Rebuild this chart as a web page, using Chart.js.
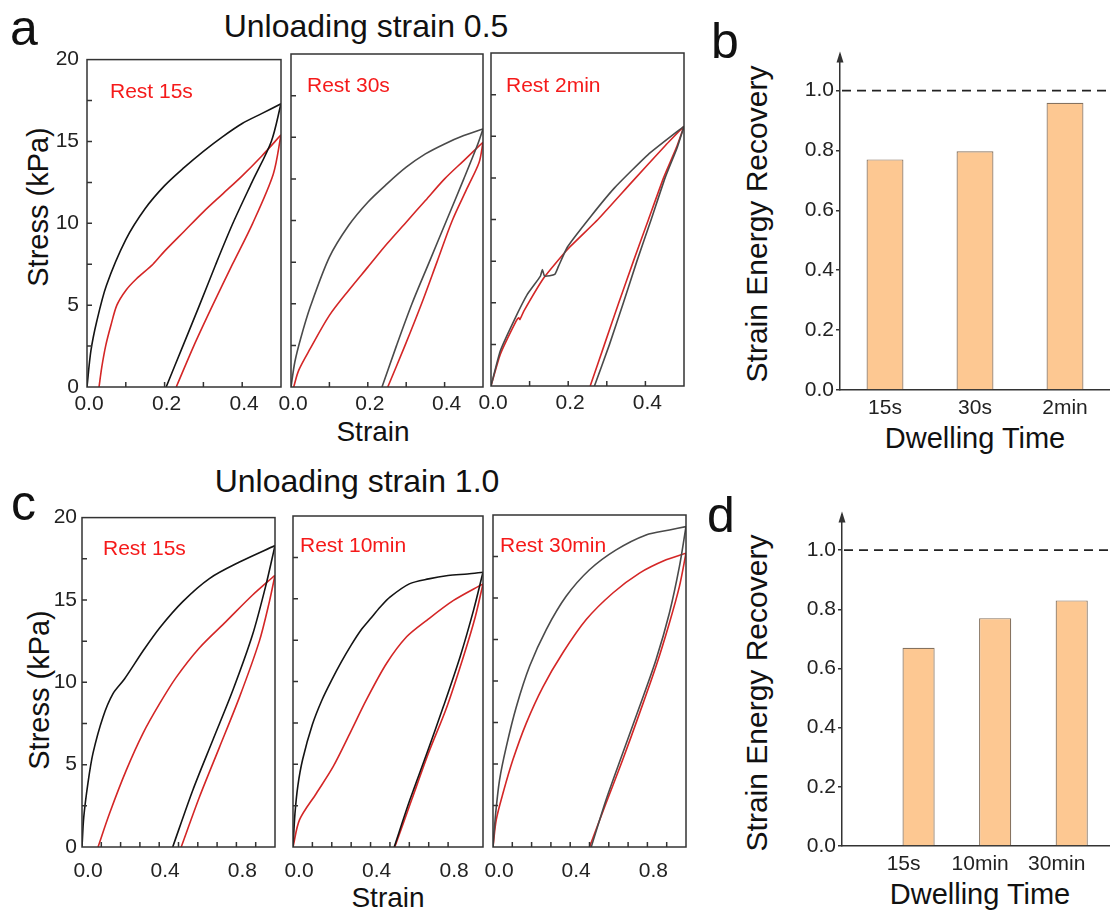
<!DOCTYPE html>
<html>
<head>
<meta charset="utf-8">
<script src="https://cdn.jsdelivr.net/npm/chart.js@4.4.0/dist/chart.umd.min.js"></script>
<style>
    body { margin: 0; width: 1110px; height: 913px; position: relative; background: #fff; overflow: hidden;
           font-family: "Liberation Sans", Arial, sans-serif; }
    canvas { position: absolute; }
    .t { position: absolute; color: #111; white-space: nowrap; line-height: 1; }
    .c { transform: translateX(-50%); }
    .r { transform: translate(-50%, -50%) rotate(-90deg); }
</style>
</head>
<body>

<div class="t" style="left:10px;top:3px;font-size:50px">a</div>
<div class="t" style="left:711px;top:16px;font-size:50px">b</div>
<div class="t" style="left:11px;top:478px;font-size:50px">c</div>
<div class="t" style="left:707px;top:490px;font-size:50px">d</div>

<div class="t c" style="left:366px;top:10px;font-size:32px">Unloading strain 0.5</div>
<div class="t c" style="left:357px;top:465px;font-size:32px">Unloading strain 1.0</div>

<div class="t r" style="left:38px;top:207px;font-size:29px">Stress (kPa)</div>
<div class="t r" style="left:39px;top:690px;font-size:29px">Stress (kPa)</div>
<div class="t c" style="left:373px;top:418px;font-size:28px">Strain</div>
<div class="t c" style="left:388px;top:884px;font-size:28px">Strain</div>

<div class="t r" style="left:757px;top:224px;font-size:30px">Strain Energy Recovery</div>
<div class="t r" style="left:757px;top:693px;font-size:30px">Strain Energy Recovery</div>
<div class="t c" style="left:975px;top:424px;font-size:29px">Dwelling Time</div>
<div class="t c" style="left:980px;top:880px;font-size:29px">Dwelling Time</div>

<canvas id="a1"></canvas>
<canvas id="a2"></canvas>
<canvas id="a3"></canvas>
<canvas id="c1"></canvas>
<canvas id="c2"></canvas>
<canvas id="c3"></canvas>
<canvas id="barB"></canvas>
<canvas id="barD"></canvas>

<script>
// [strain, stress (kPa)] pairs read off the loops, first cycle (dark) and second cycle (red)
// unloading strain 0.5, rest 15s
const a1DarkLoad = [[0, 0], [0.01, 2.2], [0.025, 4], [0.05, 6.2], [0.1, 9], [0.15, 10.9], [0.2, 12.3], [0.25, 13.4], [0.3, 14.4], [0.35, 15.3], [0.4, 16.1], [0.45, 16.7], [0.5, 17.3]];
const a1DarkUnload = [[0.5, 17.3], [0.475, 15], [0.425, 12.5], [0.376, 10], [0.332, 7.5], [0.29, 5], [0.247, 2.5], [0.204, 0]];
const a1RedLoad = [[0.031, 0], [0.038, 1.2], [0.048, 2.5], [0.062, 3.8], [0.077, 5], [0.1, 5.9], [0.127, 6.6], [0.17, 7.5], [0.2, 8.3], [0.25, 9.5], [0.3, 10.7], [0.35, 11.8], [0.4, 12.9], [0.45, 14.1], [0.5, 15.4]];
const a1RedUnload = [[0.5, 15.4], [0.48, 13], [0.427, 10], [0.375, 7.5], [0.324, 5], [0.275, 2.5], [0.23, 0]];
// rest 30s
const a2DarkLoad = [[0, 0], [0.01, 1.5], [0.025, 2.9], [0.05, 4.8], [0.1, 7.8], [0.15, 9.7], [0.2, 11.1], [0.25, 12.2], [0.3, 13.2], [0.35, 14], [0.4, 14.6], [0.45, 15.1], [0.5, 15.5]];
const a2DarkUnload = [[0.5, 15.5], [0.485, 14.5], [0.45, 12.5], [0.405, 10], [0.36, 7.5], [0.315, 5], [0.275, 2.5], [0.237, 0]];
const a2RedLoad = [[0.007, 0], [0.02, 1], [0.05, 2.3], [0.1, 4.3], [0.15, 5.8], [0.2, 7.2], [0.25, 8.6], [0.3, 9.9], [0.35, 11.2], [0.4, 12.5], [0.45, 13.6], [0.5, 14.7]];
const a2RedUnload = [[0.5, 14.7], [0.49, 13.5], [0.46, 12], [0.42, 10], [0.38, 7.5], [0.34, 5], [0.297, 2.5], [0.252, 0]];
// rest 2min
const a3DarkLoad = [[0, 0], [0.024, 2.1], [0.059, 3.9], [0.094, 5.5], [0.128, 6.6], [0.133, 7.0], [0.139, 6.6], [0.165, 6.7], [0.175, 7.2], [0.198, 8.35], [0.259, 10.2], [0.32, 11.9], [0.407, 13.9], [0.5, 15.6]];
const a3DarkUnload = [[0.5, 15.6], [0.482, 14.3], [0.451, 12.5], [0.415, 10], [0.378, 7.5], [0.343, 5], [0.307, 2.5], [0.268, 0]];
const a3RedLoad = [[0, 0], [0.024, 1.9], [0.065, 3.9], [0.072, 4.1], [0.075, 4.0], [0.085, 4.5], [0.137, 6.5], [0.198, 8.2], [0.277, 10], [0.363, 12.2], [0.45, 14.4], [0.5, 15.6]];
const a3RedUnload = [[0.5, 15.6], [0.48, 14.3], [0.447, 12.5], [0.408, 10], [0.369, 7.5], [0.331, 5], [0.294, 2.5], [0.257, 0]];
// unloading strain 1.0, rest 15s
const c1DarkLoad = [[0, 0], [0.009, 1.8], [0.031, 3.9], [0.057, 5.7], [0.109, 7.9], [0.16, 9.3], [0.22, 10.2], [0.316, 11.9], [0.402, 13.3], [0.522, 14.9], [0.66, 16.3], [0.816, 17.3], [1.0, 18.3]];
const c1DarkUnload = [[1.0, 18.3], [0.953, 15.9], [0.884, 12.9], [0.781, 9.5], [0.678, 6.5], [0.574, 3.45], [0.47, 0]];
const c1RedLoad = [[0.083, 0], [0.143, 2.05], [0.229, 4.65], [0.316, 6.9], [0.402, 8.7], [0.488, 10.3], [0.609, 12.1], [0.747, 13.7], [0.884, 15.3], [1.0, 16.5]];
const c1RedUnload = [[1.0, 16.5], [0.971, 14.9], [0.919, 12.5], [0.816, 9.1], [0.712, 6.05], [0.609, 3.05], [0.514, 0]];
// rest 10min
const c2DarkLoad = [[0, 0], [0.01, 2], [0.025, 3.7], [0.05, 5.3], [0.1, 7.4], [0.15, 8.9], [0.2, 10.1], [0.25, 11.2], [0.3, 12.2], [0.35, 13.1], [0.4, 13.8], [0.45, 14.5], [0.5, 15.1], [0.6, 15.9], [0.7, 16.2], [0.8, 16.4], [0.9, 16.5], [0.98, 16.6]];
const c2DarkUnload = [[0.98, 16.6], [0.931, 14.3], [0.862, 11.5], [0.776, 8.5], [0.69, 5.65], [0.603, 2.85], [0.522, 0]];
const c2RedLoad = [[0, 0], [0.034, 1.65], [0.121, 3.25], [0.207, 4.85], [0.293, 6.85], [0.379, 8.9], [0.483, 11.1], [0.586, 12.7], [0.69, 13.7], [0.828, 14.9], [0.98, 15.9]];
const c2RedUnload = [[0.98, 15.9], [0.94, 13.9], [0.879, 11.5], [0.793, 8.45], [0.698, 5.65], [0.612, 2.85], [0.525, 0]];
// rest 30min
const c3DarkLoad = [[0, 0], [0.014, 2.05], [0.034, 4.05], [0.069, 6.05], [0.121, 8.45], [0.19, 10.9], [0.276, 13.1], [0.379, 15.1], [0.5, 16.7], [0.638, 17.9], [0.793, 18.8], [0.914, 19.1], [1.0, 19.3]];
const c3DarkUnload = [[1.0, 19.3], [0.966, 16.9], [0.914, 14.1], [0.845, 11.3], [0.759, 8.45], [0.672, 5.65], [0.586, 2.85], [0.509, 0]];
const c3RedLoad = [[0, 0], [0.017, 1.65], [0.052, 3.25], [0.103, 5.25], [0.172, 7.45], [0.259, 9.65], [0.362, 11.7], [0.483, 13.7], [0.621, 15.3], [0.759, 16.5], [0.897, 17.3], [1.0, 17.7]];
const c3RedUnload = [[1.0, 17.7], [0.966, 15.7], [0.914, 13.5], [0.845, 10.9], [0.759, 8.05], [0.672, 5.25], [0.586, 2.65], [0.5, 0]];

// bar panels
const dwellB = ['15s', '30s', '2min'];
const recoveryB = [0.77, 0.797, 0.959];
const dwellD = ['15s', '10min', '30min'];
const recoveryD = [0.67, 0.77, 0.83];
const fullRecovery = 1.0;

const FONT = '"Liberation Sans", Arial, sans-serif';
Chart.defaults.font.family = FONT;

const isMultiple = (v, step) => Math.abs(v / step - Math.round(v / step)) < 1e-6;

// frame, inward ticks and the "Rest ..." note
const frameTicks = {
    id: 'frameTicks',
    afterDraw(chart, args, opts) {
        const { ctx, chartArea: a, scales: { x, y } } = chart;
        ctx.save();
        ctx.strokeStyle = '#333';
        ctx.lineWidth = 1.5;
        ctx.beginPath();
        x.ticks.forEach(t => {
            const px = x.getPixelForValue(t.value);
            if (px <= a.left + 1 || px >= a.right - 1) return;
            ctx.moveTo(px, a.bottom);
            ctx.lineTo(px, a.bottom - 5);
        });
        y.ticks.forEach(t => {
            const py = y.getPixelForValue(t.value);
            if (py <= a.top + 1 || py >= a.bottom - 1) return;
            ctx.moveTo(a.left, py);
            ctx.lineTo(a.left + 5, py);
        });
        ctx.stroke();
        ctx.strokeRect(a.left, a.top, a.right - a.left, a.bottom - a.top);
        if (opts.text) {
            ctx.fillStyle = '#f51a1a';
            ctx.font = '21px ' + FONT;
            ctx.textBaseline = 'alphabetic';
            ctx.fillText(opts.text, a.left + opts.dx, a.top + opts.dy);
        }
        ctx.restore();
    }
};

// y axis arrow and dashed line at full recovery
const axisArrows = {
    id: 'axisArrows',
    afterDraw(chart, args, opts) {
        const { ctx, chartArea: a, scales: { y } } = chart;
        ctx.save();
        ctx.fillStyle = '#333';
        ctx.beginPath();
        ctx.moveTo(a.left, a.top - 3);
        ctx.lineTo(a.left - 3.5, a.top + 8);
        ctx.lineTo(a.left + 3.5, a.top + 8);
        ctx.closePath();
        ctx.fill();
        const py = y.getPixelForValue(opts.level);
        ctx.strokeStyle = '#222';
        ctx.lineWidth = 1.8;
        ctx.setLineDash([9, 6]);
        ctx.beginPath();
        ctx.moveTo(a.left + 2, py);
        ctx.lineTo(a.right, py);
        ctx.stroke();
        ctx.restore();
    }
};

function loopChart(id, box, curves, opt) {
    const canvas = document.getElementById(id);
    // the left margin must hold half of the first x label plus its padding
    const L = opt.yLabels ? 50 : 35, T = 15, R = 15, B = 40;
    canvas.width = box.r - box.l + L + R;
    canvas.height = box.b - box.t + T + B;
    canvas.style.left = (box.l - L) + 'px';
    canvas.style.top = (box.t - T) + 'px';

    new Chart(canvas, {
        type: 'scatter',
        data: {
            datasets: curves.map(c => ({
                data: c.pts.map(p => ({ x: p[0], y: p[1] })),
                showLine: true,
                borderColor: c.color,
                borderWidth: 1.6,
                pointRadius: 0,
                tension: opt.tension,
                fill: false
            }))
        },
        options: {
            responsive: false,
            animation: false,
            events: [],
            layout: { padding: { left: opt.yLabels ? 0 : L, top: T, right: R, bottom: 0 } },
            plugins: {
                legend: { display: false },
                tooltip: { enabled: false },
                frameTicks: { text: opt.text, dx: opt.dx, dy: opt.dy }
            },
            scales: {
                x: {
                    type: 'linear',
                    min: 0,
                    max: opt.xMax,
                    grid: { display: false, drawTicks: false },
                    border: { display: false },
                    afterFit: s => { s.height = B; },
                    ticks: {
                        stepSize: 0.1,
                        autoSkip: false,
                        maxRotation: 0,
                        padding: opt.xPad,
                        labelOffset: opt.xOff,
                        color: '#222',
                        font: { size: 21 },
                        callback: v => isMultiple(v, opt.xLabelStep) ? v.toFixed(1) : ''
                    }
                },
                y: {
                    min: 0,
                    max: 20,
                    grid: { display: false, drawTicks: false },
                    border: { display: false },
                    afterFit: s => { s.width = opt.yLabels ? L : 0; },
                    ticks: {
                        display: opt.yLabels,
                        stepSize: 2.5,
                        autoSkip: false,
                        padding: opt.yPad,
                        color: '#222',
                        font: { size: 21 },
                        callback: v => isMultiple(v, 5) ? v : ''
                    }
                }
            }
        },
        plugins: [frameTicks]
    });
}

const DARK = '#141414', GREY = '#4a4a4a', RED = '#d42626';

loopChart('a1', { l: 87, t: 54, r: 281, b: 387 }, [
    { pts: a1DarkLoad, color: DARK }, { pts: a1DarkUnload, color: DARK },
    { pts: a1RedLoad, color: RED }, { pts: a1RedUnload, color: RED }
], { yLabels: true, xMax: 0.5, xLabelStep: 0.2, xPad: 5, xOff: 2, yPad: 8, tension: 0.3, text: 'Rest 15s', dx: 23, dy: 38 });

loopChart('a2', { l: 291, t: 54, r: 483, b: 387 }, [
    { pts: a2DarkLoad, color: GREY }, { pts: a2DarkUnload, color: GREY },
    { pts: a2RedLoad, color: RED }, { pts: a2RedUnload, color: RED }
], { yLabels: false, xMax: 0.5, xLabelStep: 0.2, xPad: 5, xOff: 2, yPad: 8, tension: 0.3, text: 'Rest 30s', dx: 16, dy: 38 });

loopChart('a3', { l: 491, t: 53, r: 684, b: 386 }, [
    { pts: a3DarkLoad, color: GREY }, { pts: a3DarkUnload, color: GREY },
    { pts: a3RedLoad, color: RED }, { pts: a3RedUnload, color: RED }
], { yLabels: false, xMax: 0.5, xLabelStep: 0.2, xPad: 5, xOff: 2, yPad: 8, tension: 0.15, text: 'Rest 2min', dx: 15, dy: 39 });

loopChart('c1', { l: 82, t: 515, r: 275, b: 847 }, [
    { pts: c1DarkLoad, color: DARK }, { pts: c1DarkUnload, color: DARK },
    { pts: c1RedLoad, color: RED }, { pts: c1RedUnload, color: RED }
], { yLabels: true, xMax: 1.0, xLabelStep: 0.4, xPad: 12, xOff: 6, yPad: 5, tension: 0.3, text: 'Rest 15s', dx: 21, dy: 37 });

loopChart('c2', { l: 293, t: 516, r: 483, b: 847 }, [
    { pts: c2DarkLoad, color: DARK }, { pts: c2DarkUnload, color: DARK },
    { pts: c2RedLoad, color: RED }, { pts: c2RedUnload, color: RED }
], { yLabels: false, xMax: 0.98, xLabelStep: 0.4, xPad: 12, xOff: 6, yPad: 5, tension: 0.3, text: 'Rest 10min', dx: 7, dy: 36 });

loopChart('c3', { l: 493, t: 515, r: 686, b: 847 }, [
    { pts: c3DarkLoad, color: GREY }, { pts: c3DarkUnload, color: GREY },
    { pts: c3RedLoad, color: RED }, { pts: c3RedUnload, color: RED }
], { yLabels: false, xMax: 1.0, xLabelStep: 0.4, xPad: 12, xOff: 6, yPad: 5, tension: 0.3, text: 'Rest 30min', dx: 7, dy: 37 });

const BAR_FILL = '#fdc892', BAR_EDGE = '#85725f';

function yRecoveryAxis(width) {
    return {
        min: 0,
        max: 1.12,
        grid: { display: true, drawOnChartArea: false, drawTicks: true, tickLength: 4, color: '#333', lineWidth: 1.5 },
        border: { display: true, color: '#333', width: 1.5 },
        afterFit: s => { s.width = width; },
        ticks: { stepSize: 0.2, includeBounds: false, padding: 2, color: '#222', font: { size: 21 }, callback: v => v.toFixed(1) }
    };
}

// b: three categories spread over the whole axis
(function () {
    const canvas = document.getElementById('barB');
    canvas.width = 410; canvas.height = 390;
    canvas.style.left = '700px'; canvas.style.top = '40px';
    new Chart(canvas, {
        type: 'bar',
        data: {
            labels: dwellB,
            datasets: [{
                data: recoveryB,
                backgroundColor: BAR_FILL,
                borderColor: BAR_EDGE,
                borderWidth: 1.2,
                categoryPercentage: 1,
                barPercentage: 0.41
            }]
        },
        options: {
            responsive: false,
            animation: false,
            events: [],
            layout: { padding: { left: 0, top: 10, right: 0, bottom: 0 } },
            plugins: { legend: { display: false }, tooltip: { enabled: false }, axisArrows: { level: fullRecovery } },
            scales: {
                x: {
                    grid: { display: false, drawTicks: false },
                    border: { display: true, color: '#333', width: 1.5 },
                    afterFit: s => { s.height = 40; },
                    ticks: { padding: 6, color: '#222', font: { size: 21 } }
                },
                y: yRecoveryAxis(140)
            }
        },
        plugins: [axisArrows]
    });
})();

// d: bars at positions 1..3 on a linear axis that runs to 3.5
(function () {
    const canvas = document.getElementById('barD');
    canvas.width = 410; canvas.height = 386;
    canvas.style.left = '700px'; canvas.style.top = '500px';
    new Chart(canvas, {
        type: 'bar',
        data: {
            datasets: [{
                data: recoveryD.map((v, i) => ({ x: i + 1, y: v })),
                backgroundColor: BAR_FILL,
                borderColor: BAR_EDGE,
                borderWidth: 1.2,
                categoryPercentage: 1,
                barPercentage: 0.42
            }]
        },
        options: {
            responsive: false,
            animation: false,
            events: [],
            layout: { padding: { left: 0, top: 10, right: 0, bottom: 0 } },
            plugins: { legend: { display: false }, tooltip: { enabled: false }, axisArrows: { level: fullRecovery } },
            scales: {
                x: {
                    type: 'linear',
                    min: 0,
                    max: 3.5,
                    offset: false,
                    grid: { display: false, drawTicks: false },
                    border: { display: true, color: '#333', width: 1.5 },
                    afterFit: s => { s.height = 40; },
                    afterBuildTicks: s => { s.ticks = dwellD.map((_, i) => ({ value: i + 1 })); },
                    ticks: {
                        autoSkip: false,
                        maxRotation: 0,
                        padding: 6,
                        labelOffset: -15,
                        color: '#222',
                        font: { size: 21 },
                        callback: v => dwellD[v - 1]
                    }
                },
                y: yRecoveryAxis(142)
            }
        },
        plugins: [axisArrows]
    });
})();
</script>
</body>
</html>
